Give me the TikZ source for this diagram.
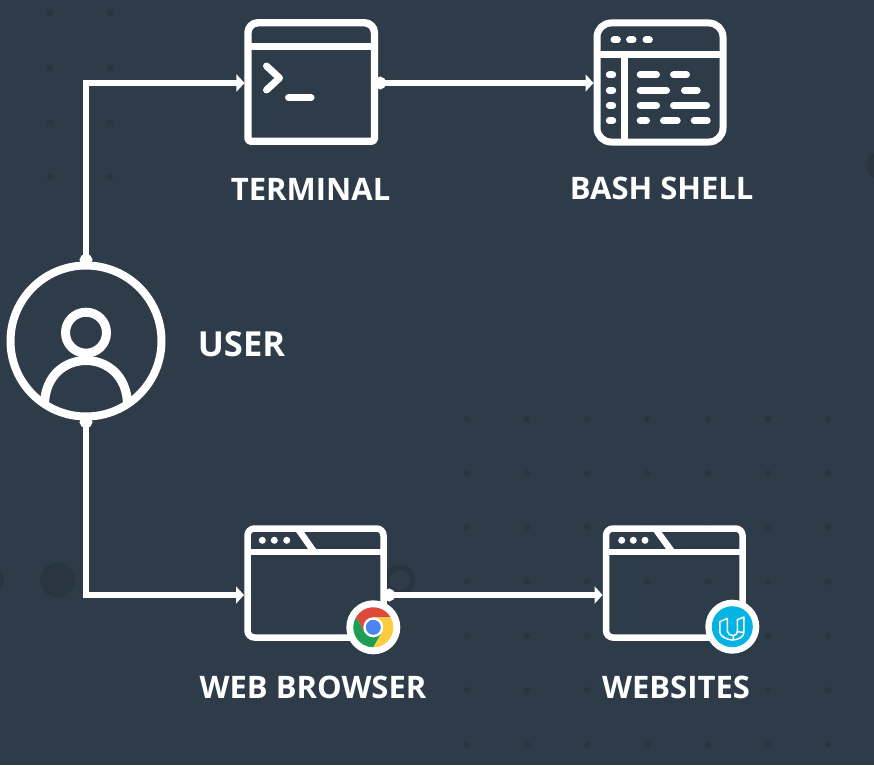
\documentclass[tikz,border=0pt]{standalone}
\usepackage{fontspec}
\setmainfont{Open Sans}
\usetikzlibrary{arrows.meta,calc}
\definecolor{bgcol}{HTML}{2E3C49}
\definecolor{dotcol}{HTML}{293642}
\definecolor{chromered}{HTML}{DB4A3B}
\definecolor{chromegreen}{HTML}{1E9E55}
\definecolor{chromeyellow}{HTML}{FCCB3E}
\definecolor{chromeblue}{HTML}{4A86F0}
\definecolor{udablue}{HTML}{02B3E4}
\tikzset{
  iconline/.style={draw=white,line width=#1,line join=round},
  iconline/.default=7pt,
  winbox/.style={draw=white,line width=6.5pt,rounded corners=7pt,inner sep=0pt,outer sep=0pt,rectangle},
  anchorbox/.style={inner sep=0pt,outer sep=0pt,rectangle},
  pill/.style={draw=white,line width=7pt,line cap=round},
  connector/.style={draw=white,line width=5.2pt,line join=miter,shorten >=3.5pt},
  dotstart/.style={{Circle[length=11.5pt,width=12.5pt,fill=white]}-{Triangle[length=8pt,width=17pt,fill=white]}},
  caption/.style={text=white,font=\fontsize{31}{31}\selectfont\bfseries,inner sep=0pt,anchor=base},
  bigcaption/.style={text=white,font=\fontsize{34.5}{34.5}\selectfont\bfseries,inner sep=0pt,anchor=base},
  griddot/.style={fill=dotcol,draw=none},
}
\begin{document}
\begin{tikzpicture}[x=1pt,y=-1pt]
\useasboundingbox (0,0) rectangle (874,765);
\fill[bgcol] (0,0) rectangle (874,765);
% background dots
\foreach \gx in {466.7,527,587.2,647.4,707.6,768,828}
  \foreach \gy in {419,473.3,527.5,581.7,636,690.2,744.4}
    \fill[griddot] (\gx,\gy) circle[radius=3.3pt];
\foreach \gx in {50,110}
  \foreach \gy in {13.3,67.7,122.3,176.7}
    \fill[griddot] (\gx,\gy) circle[radius=3.3pt];
\fill[griddot] (57.5,580) circle[radius=17.5pt];
\fill[griddot] (-13,580) circle[radius=17pt];
\fill[griddot] (881,165) circle[radius=14.5pt];
\draw[dotcol,line width=5pt] (400,580) circle[radius=13pt];
% user
\node[circle,draw=white,line width=8pt,inner sep=0pt,outer sep=0pt,minimum size=151pt] (user) at (86,341) {};
\begin{scope}
  \clip (86,341) circle[radius=75.5pt];
  \draw[iconline=9pt] (44.5,404) .. controls (46,346) and (126,346) .. (127.5,404);
\end{scope}
\draw[iconline=9pt] (86,332.7) circle[radius=20.5pt];
% terminal
\node[anchorbox,minimum width=126.5pt,minimum height=118.5pt] (terminal) at (311.2,82) {};
\draw[iconline=7.4pt,rounded corners=3pt] (terminal.west) |- (terminal.south) -| (terminal.east)
  [rounded corners=10pt] |- (terminal.north) -| (terminal.west) -- cycle;
\draw[iconline=7.5pt] (terminal.west |- 0,46.7) -- (terminal.east |- 0,46.7);
\draw[iconline=7pt,line cap=round] (266.5,66) -- (279.5,78) -- (266.5,90);
\draw[pill] (288.5,97.7) -- (311,97.7);
% bash
\node[anchorbox,minimum width=126pt,minimum height=119pt] (bash) at (660,82.5) {};
\draw[iconline=7pt,rounded corners=14pt] (bash.west) |- (bash.south) -| (bash.east) |- (bash.north) -| (bash.west) -- cycle;
\draw[iconline=7pt] (bash.west |- 0,55) -- (bash.east |- 0,55);
\draw[iconline=7pt] (624,55) -- (624,55 |- bash.south);
\foreach \dx in {615.7,631.3,647.7} \draw[pill] (\dx-1.7,40) -- (\dx+1.7,40);
\foreach \dy in {75,90.3,105.7,120.7} \draw[pill] (609.3,\dy) -- (612.7,\dy);
\foreach \pa/\pb/\py in {640.2/656.5/75,673.5/686.5/75,640.2/666.5/90.3,684.5/697.2/90.3,
    640.2/656.5/105.7,673.5/706.5/105.7,640.2/646.5/120.7,663.5/677.2/120.7,694.2/707.2/120.7}
  \draw[pill] (\pa,\py) -- (\pb,\py);
% browser
\node[winbox,minimum width=136pt,minimum height=109pt] (browser) at (315.5,583) {};
\draw[iconline=6.5pt] (browser.west |- 0,552) -- (browser.east |- 0,552);
\draw[iconline=6.5pt] (298,529) -- (313.5,551);
\foreach \dx in {262.3,274.3,286.7} \fill[white] (\dx,540.3) circle[radius=3.5pt];
% websites
\node[winbox,minimum width=136.5pt,minimum height=109pt] (websites) at (674.3,583) {};
\draw[iconline=6.5pt] (websites.west |- 0,552) -- (websites.east |- 0,552);
\draw[iconline=6.5pt] (655.5,529) -- (671.5,551);
\foreach \dx in {621.7,633.3,645} \fill[white] (\dx,540.3) circle[radius=3.5pt];
% connectors
\draw[connector,dotstart] (user.north) |- ([yshift=-1pt]terminal.west);
\draw[connector,dotstart] ([yshift=-1pt]terminal.east) -- ([yshift=-.5pt]bash.west);
\draw[connector,dotstart] (user.south) |- ([yshift=-12pt]browser.west);
\draw[connector,dotstart] ([yshift=-12pt]browser.east) -- ([yshift=-12pt]websites.west);
% chrome badge
\begin{scope}[shift={(373.3,627.3)}]
  \fill[white] (0,0) circle[radius=27pt];
  \fill[chromered] (90:10pt) -- (30:20pt) arc[start angle=30,end angle=150,radius=20pt] -- (210:10pt) -- cycle;
  \fill[chromegreen] (210:10pt) -- (150:20pt) arc[start angle=150,end angle=270,radius=20pt] -- (330:10pt) -- cycle;
  \fill[chromeyellow] (330:10pt) -- (270:20pt) arc[start angle=270,end angle=390,radius=20pt] -- (90:10pt) -- cycle;
  \fill[white] (0,0) circle[radius=10pt];
  \fill[chromeblue] (0,0) circle[radius=7.5pt];
\end{scope}
% udacity badge
\begin{scope}[shift={(732.3,626.7)}]
  \fill[white] (0,0) circle[radius=27pt];
  \fill[udablue] (0,0) circle[radius=20.5pt];
  \draw[white,line width=1.5pt,line join=round]
    (-5,-8.3) -- (-12.4,-5) -- (-12.4,5.7) .. controls (-12.4,10) and (-4,13.3) .. (0,13.3)
    .. controls (6,13.3) and (11.6,10) .. (11.6,5.7) -- (11.6,-9.7) -- (5,-7) -- (5,5)
    .. controls (5,7) and (3,9) .. (1,9) .. controls (-2,9) and (-5,7) .. (-5,4.3) -- cycle;
  \draw[white,line width=1.5pt] (1,9) -- (1,13) (5,5) -- (11.6,5.7);
\end{scope}
% captions
\node[caption] (termlabel) at (310.6,200) {TERMINAL};
\node[caption] (bashlabel) at (661.7,199.5) {BASH SHELL};
\node[bigcaption] (userlabel) at (241.5,356) {USER};
\node[caption] (weblabel) at (313,698) {WEB BROWSER};
\node[caption] (sitelabel) at (676,698) {WEBSITES};
\end{tikzpicture}
\end{document}
